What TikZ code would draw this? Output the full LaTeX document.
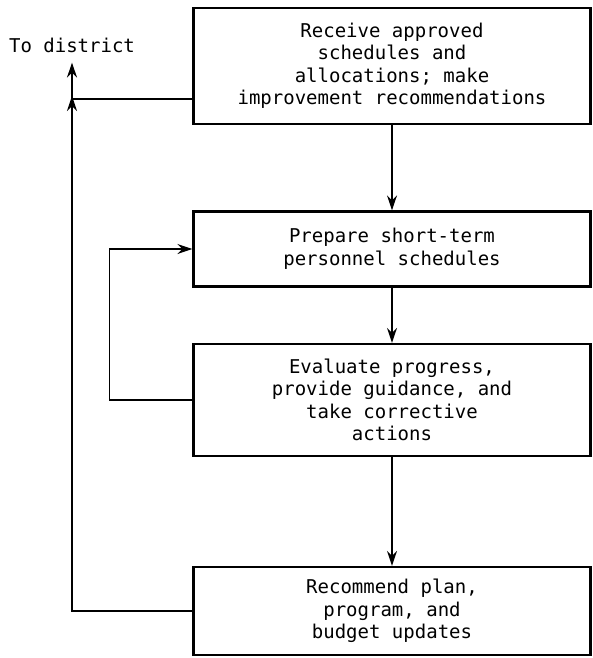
\documentclass[tikz,border=0pt]{standalone}
\usepackage{fontspec}
\newfontfamily\flowfont{DejaVu Sans Mono}
\usetikzlibrary{positioning, arrows.meta}
\tikzset{
  box/.style  ={draw, line width=2.2pt, align=center, minimum width=397pt,
                inner sep=4pt},
  flow/.style ={-{Stealth[length=15pt, width=10pt, inset=5pt]}, line width=1.8pt},
  link/.style ={line width=1.8pt},
}

\begin{document}
\begin{tikzpicture}[x=1pt, y=-1pt,
  font=\flowfont\fontsize{19}{22.5}\selectfont]
  \useasboundingbox (0,0) rectangle (593,658);
  \node[box, minimum height=116pt] (recv) at (392,66)
    {Receive approved\\ schedules and\\ allocations; make\\ improvement recommendations};
  \node[box, minimum height=75pt]  (prep) at (392,249)
    {Prepare short-term\\ personnel schedules};
  \node[box, minimum height=112pt] (eval) at (392,400)
    {Evaluate progress,\\ provide guidance, and\\ take corrective\\ actions};
  \node[box, minimum height=88pt]  (recm) at (392,611)
    {Recommend plan,\\ program, and\\ budget updates};
  \node[inner sep=2pt] (dist) at (72,45) {To district};
  \coordinate (join) at (72,99);

  \draw[flow] (recv) -- (prep);
  \draw[flow] (prep) -- (eval);
  \draw[flow] (eval) -- (recm);
  % feedback loop
  \draw[flow] (eval.west) -- ++(-83,0) |- (prep.west);
  % upward line to district
  \draw[flow] (recm.west) -| ([yshift=3pt]join);
  \draw[link] (recv.west |- join) -- (join);
  \draw[flow, shorten >=8pt] (join) -- (dist.south);
\end{tikzpicture}
\end{document}
